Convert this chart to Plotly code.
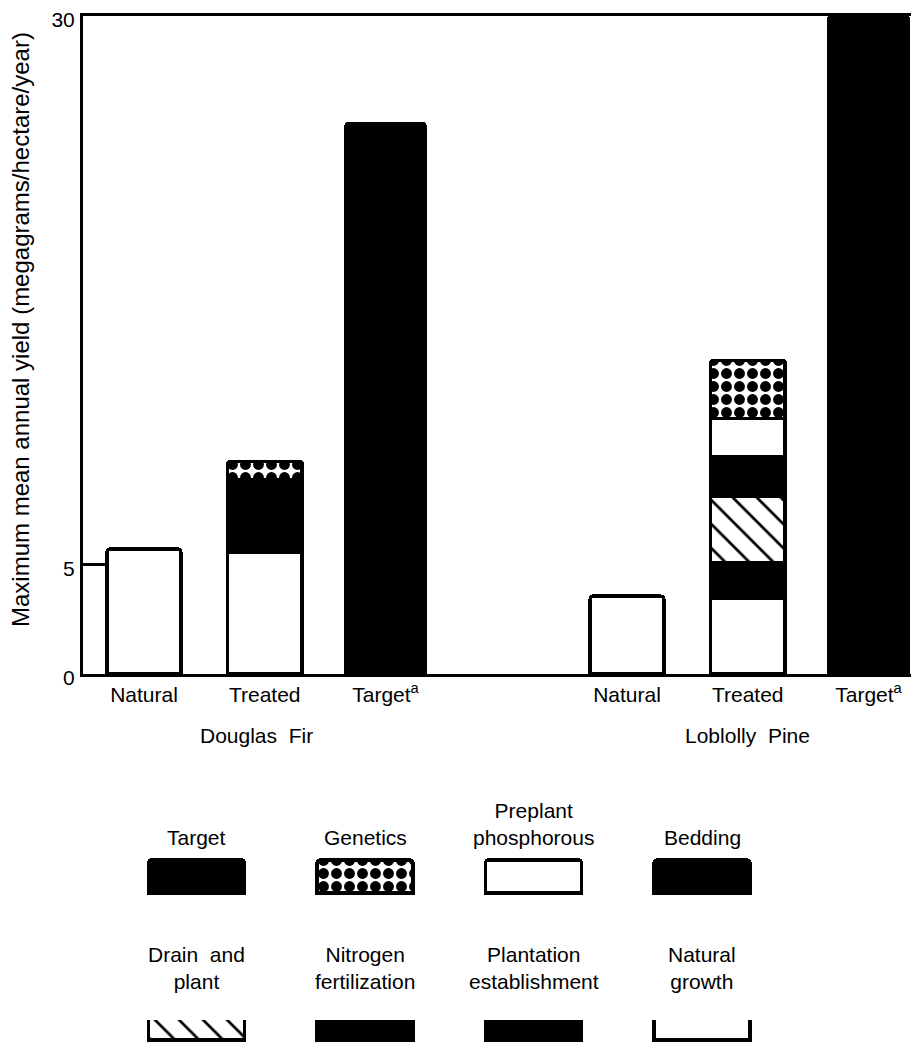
import plotly.graph_objects as go

# the browser page adds an 8px margin round the figure
PAGE_W, PAGE_H = 919, 1043
OFF = 8
W, H = PAGE_W - OFF, PAGE_H - OFF
T, B, L, R = 16 - OFF, 0, 83 - OFF, 0
FONT = "Liberation Sans, Arial, Helvetica, sans-serif"

# ---- data -------------------------------------------------------------
categories = ["Natural", "Treated", "Target<sup>a</sup>"]
species = ["Douglas  Fir", "Loblolly  Pine"]
# one entry per bar: DF natural, DF treated, DF target, LP natural, LP treated, LP target
natural_growth = [5.70, 5.55, None, 3.55, 3.45, None]
plantation_establishment = [None, None, None, None, 1.60, None]
nitrogen_fertilization = [None, 3.30, None, None, None, None]
drain_and_plant = [None, None, None, None, 3.05, None]
bedding = [None, None, None, None, 1.80, None]
preplant_phosphorous = [None, None, None, None, 1.75, None]
genetics = [None, 0.85, None, None, 2.65, None]
target = [None, None, 25.1, None, None, 30.0]
y_ticks = [0, 5, 30]
y_title = "Maximum mean annual yield (megagrams/hectare/year)"

legend_row1 = ["Target", "Genetics", "Preplant<br>phosphorous", "Bedding"]
legend_row2 = ["Drain  and<br>plant", "Nitrogen<br>fertilization",
               "Plantation<br>establishment", "Natural<br>growth"]

# ---- styles -----------------------------------------------------------
LINE = dict(color="black", width=3.5)
BLACK = dict(color="black")
WHITE = dict(color="white")
DOTS = dict(color="white", pattern=dict(shape=".", fgcolor="black", bgcolor="white",
                                        fgopacity=1, size=13, solidity=0.55))
HATCH = dict(color="white", pattern=dict(shape="\\", fgcolor="black", bgcolor="white",
                                         fgopacity=1, size=17, solidity=0.16))
styles = {
    "Target": BLACK, "Genetics": DOTS, "Preplant<br>phosphorous": WHITE, "Bedding": BLACK,
    "Drain  and<br>plant": HATCH, "Nitrogen<br>fertilization": BLACK,
    "Plantation<br>establishment": BLACK, "Natural<br>growth": WHITE,
}

# layout positions of bars
x_pos = [g * 4 + i for g in range(len(species)) for i in range(len(categories))]
widths = [0.61, 0.62, 0.655] * len(species)
tick_text = categories * len(species)

fig = go.Figure()

stack = [
    ("Natural<br>growth", natural_growth),
    ("Plantation<br>establishment", plantation_establishment),
    ("Nitrogen<br>fertilization", nitrogen_fertilization),
    ("Drain  and<br>plant", drain_and_plant),
    ("Bedding", bedding),
    ("Preplant<br>phosphorous", preplant_phosphorous),
    ("Genetics", genetics),
    ("Target", target),
]
for name, vals in stack:
    fig.add_trace(go.Bar(x=x_pos, y=vals, width=widths, name=name.replace("<br>", " "),
                         marker=dict(line=LINE, cornerradius=3, **styles[name]),
                         showlegend=False, hoverinfo="skip"))


# ---- helpers: page pixel -> paper fraction -----------------------------
def paper_y(p):
    return (H - B - (p - OFF)) / (H - T - B)


def paper_x(p):
    return (p - OFF - L) / (W - L - R)


row1_top, row1_bot = 860, 893
row2_top, row2_bot = 1006, 1040
pad = 6
col_center0, col_step = 196.5, 168.5
sw_width = 96 / col_step
x2_range = [(L + OFF - col_center0) / col_step, (PAGE_W - R - col_center0) / col_step]

h1 = row1_bot - row1_top
h2 = row2_bot - row2_top
clip2 = 1020

for i, name in enumerate(legend_row1):
    fig.add_trace(go.Bar(x=[i], y=[1], width=sw_width, xaxis="x2", yaxis="y2",
                         marker=dict(line=LINE, cornerradius=3, **styles[name]),
                         showlegend=False, hoverinfo="skip"))
for i, name in enumerate(legend_row2):
    fig.add_trace(go.Bar(x=[i], y=[1], width=sw_width, xaxis="x2", yaxis="y3",
                         marker=dict(line=LINE, cornerradius=3, **styles[name]),
                         showlegend=False, hoverinfo="skip"))

annotations = []
for i, name in enumerate(legend_row1):
    annotations.append(dict(text=name, xref="x2", x=i, yref="paper", y=paper_y(851),
                            yanchor="bottom", xanchor="center", showarrow=False,
                            font=dict(size=21, family=FONT, color="black")))
for i, name in enumerate(legend_row2):
    annotations.append(dict(text=name, xref="x2", x=i, yref="paper", y=paper_y(995),
                            yanchor="bottom", xanchor="center", showarrow=False,
                            font=dict(size=21, family=FONT, color="black")))
for g, sp in enumerate(species):
    grp = x_pos[g * len(categories):(g + 1) * len(categories)]
    annotations.append(dict(text=sp, xref="x", x=sum(grp) / len(grp), yref="paper",
                            y=paper_y(735), yanchor="middle", xanchor="center",
                            xshift=-8 if g == 0 else 0, showarrow=False,
                            font=dict(size=21, family=FONT, color="black")))
# y-axis title
annotations.append(dict(text=y_title, textangle=-90, xref="paper", x=paper_x(20),
                        yref="paper", y=paper_y(330), xanchor="center", yanchor="middle",
                        showarrow=False, font=dict(size=24, family=FONT, color="black")))

main_bottom = 674
fig.update_layout(
    width=W, height=H,
    margin=dict(l=L, r=R, t=T, b=B, pad=0, autoexpand=False),
    paper_bgcolor="white", plot_bgcolor="white",
    barmode="stack",
    font=dict(family=FONT, color="black", size=21),
    annotations=annotations,
    xaxis=dict(domain=[0, 1], range=[(L + OFF - 144) / 120.75, (PAGE_W - R - 144) / 120.75],
               tickvals=x_pos, ticktext=tick_text, ticks="", ticklabelstandoff=0,
               ticklabeloverflow="allow", automargin=False,
               tickfont=dict(size=21), showline=True, linecolor="black", linewidth=3,
               mirror=True, showgrid=False, zeroline=False, fixedrange=True),
    yaxis=dict(domain=[paper_y(main_bottom), 1], range=[0, 30], tickvals=y_ticks,
               ticks="inside", ticklen=24, tickwidth=3, tickcolor="black",
               ticklabelstandoff=1, ticklabelshift=4, ticklabeloverflow="allow",
               automargin=False, tickfont=dict(size=21),
               showline=True, linecolor="black", linewidth=3, showgrid=False,
               zeroline=False),
    xaxis2=dict(domain=[0, 1], range=x2_range, visible=False, anchor="y2"),
    yaxis2=dict(domain=[paper_y(row1_bot + pad), paper_y(row1_top - pad)],
                range=[-pad / h1, 1 + pad / h1], visible=False, anchor="x2"),
    yaxis3=dict(domain=[0, paper_y(clip2)],
                range=[-(PAGE_H - row2_bot) / h2, (row2_bot - clip2) / h2],
                visible=False, anchor="x2"),
)

fig.write_html("out.html")
